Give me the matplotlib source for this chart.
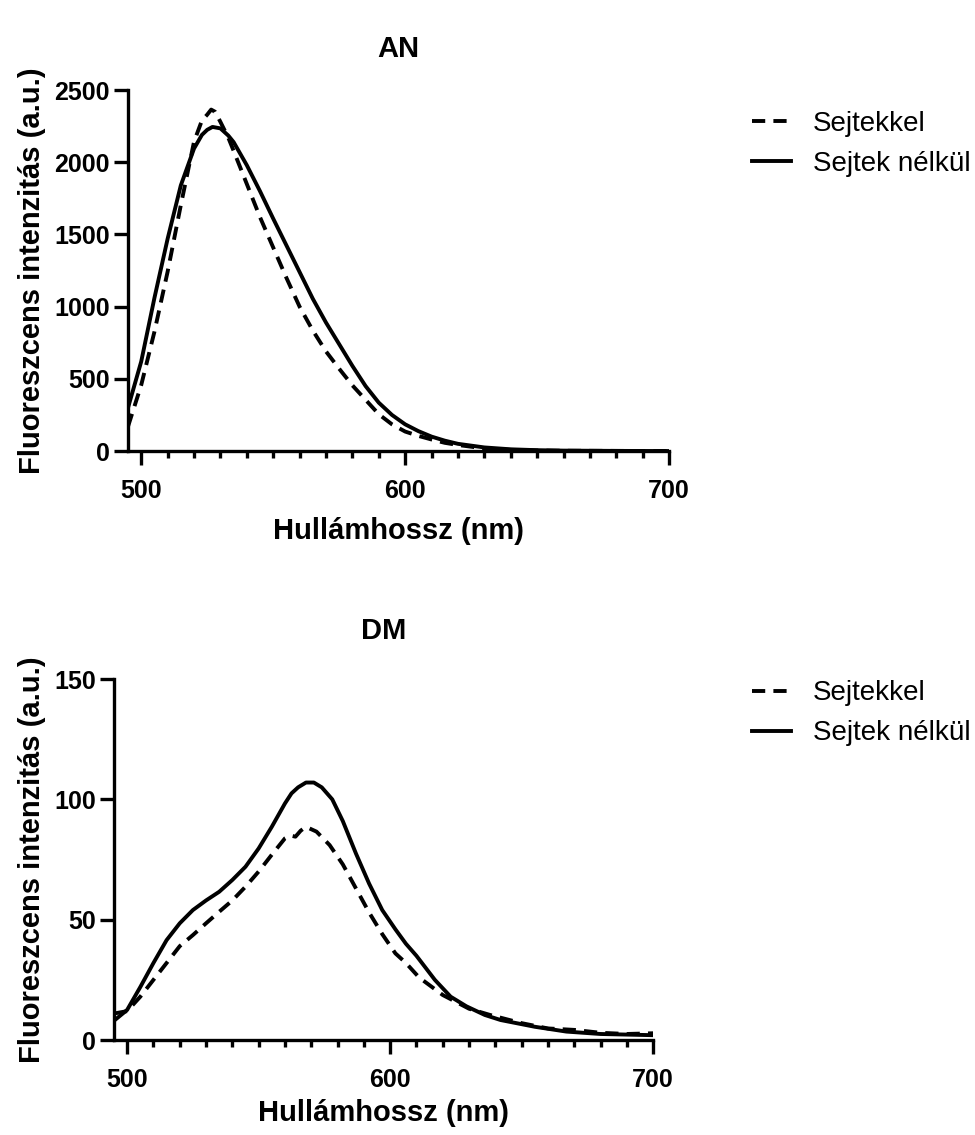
import matplotlib.pyplot as plt
from matplotlib.ticker import MultipleLocator

plt.rcParams['font.family'] = ['Liberation Sans', 'DejaVu Sans']

# AN spectra
an_x_with = [495, 500, 505, 510, 515, 520, 523, 525, 526.5, 528, 530, 533, 535, 540, 545, 550,
             555, 560, 565, 570, 575, 580, 585, 590, 595, 600, 605, 610, 615, 620, 630, 640,
             650, 660, 680, 700]
an_with = [170, 457, 826, 1242, 1703, 2142, 2290, 2330, 2365, 2350, 2280, 2170, 2080, 1850, 1620, 1410,
           1200, 1000, 835, 690, 570, 455, 355, 255, 185, 135, 105, 80, 57, 42, 18, 8,
           4, 2, 1, 0]
an_x_without = [495, 500, 505, 510, 515, 520, 523, 525, 527, 530, 533, 535, 540, 545, 550, 555,
                560, 565, 570, 575, 580, 585, 590, 595, 600, 605, 610, 615, 620, 630, 640, 650,
                660, 680, 700]
an_without = [300, 620, 1060, 1470, 1840, 2095, 2190, 2225, 2245, 2235, 2185, 2140, 1980, 1800, 1610, 1425,
              1240, 1055, 890, 740, 590, 450, 335, 250, 185, 138, 100, 72, 50, 25, 12, 6,
              3, 1, 0]

# DM spectra
dm_x_with = [495, 500, 505, 510, 515, 520, 525, 530, 535, 540, 545, 550, 555, 560, 562, 564,
             566, 568, 572, 577, 582, 587, 592, 597, 602, 606, 611, 620, 630, 638, 650, 660,
             670, 680, 690, 700]
dm_with = [11, 12, 18, 25, 32, 39, 43.6, 48.5, 53.3, 58, 63.7, 70, 77, 83.8, 85, 84.5,
           87, 88.6, 86.6, 81, 73, 63, 53, 44, 36, 32, 26, 18.7, 13, 10.4, 7, 4.8,
           4.2, 3, 2.5, 2.8]
dm_x_without = [495, 500, 505, 510, 515, 520, 525, 530, 535, 540, 545, 550, 555, 560, 562.5, 565,
                568, 571, 574, 578, 582, 587, 592, 597, 602, 606, 610, 617, 623, 629, 636, 642,
                655, 667, 680, 700]
dm_without = [8, 12.5, 22, 32, 41.5, 48.5, 54, 58, 61.6, 66.5, 72, 79.6, 88.6, 98.3, 102.5, 105,
              107, 107, 105, 100, 91, 77.5, 65, 54, 46, 40, 35, 25, 18, 14, 10.4, 8.3,
              5.5, 3.5, 2.5, 2]

fig = plt.figure(figsize=(9.75, 11.35), dpi=100)
ax1 = fig.add_axes([0.1313, 0.6026, 0.555, 0.318])
ax2 = fig.add_axes([0.1169, 0.0837, 0.553, 0.318])

panels = [
    (ax1, 'AN', an_x_with, an_with, an_x_without, an_without, 2500, 500, 0.9025, 24, 10),
    (ax2, 'DM', dm_x_with, dm_with, dm_x_without, dm_without, 150, 50, 0.4005, 29, 5),
]

for ax, title, xw, yw, xo, yo, ymax, ystep, leg_y, tpad, xpad in panels:
    ax.plot(xw, yw, color='black', lw=2.8, ls=(0, (3.4, 2.1)), label='Sejtekkel')
    ax.plot(xo, yo, color='black', lw=2.8, label='Sejtek nélkül')
    ax.set_xlim(495, 700)
    ax.set_ylim(0, ymax)
    ax.xaxis.set_major_locator(MultipleLocator(100))
    ax.xaxis.set_minor_locator(MultipleLocator(10))
    ax.yaxis.set_major_locator(MultipleLocator(ystep))
    for side in ['top', 'right']:
        ax.spines[side].set_visible(False)
    for side in ['left', 'bottom']:
        ax.spines[side].set_linewidth(2.4)
    ax.tick_params(axis='both', which='major', length=10, width=2.4, labelsize=18)
    ax.tick_params(axis='x', which='major', pad=10)
    ax.tick_params(axis='y', which='major', pad=3)
    ax.tick_params(axis='x', which='minor', length=5, width=2.4)
    for lbl in ax.get_xticklabels() + ax.get_yticklabels():
        lbl.set_fontweight('bold')
    ax.set_title(title, fontsize=21, fontweight='bold', pad=tpad)
    ax.set_xlabel('Hullámhossz (nm)', fontsize=21, fontweight='bold', labelpad=xpad)
    ax.set_ylabel('Fluoreszcens intenzitás (a.u.)', fontsize=21, fontweight='bold', labelpad=6)
    ax.legend(loc='upper left', bbox_to_anchor=(0.771, leg_y), bbox_transform=fig.transFigure,
              frameon=False, fontsize=20, borderpad=0, borderaxespad=0,
              handlelength=1.4, handletextpad=0.8, labelspacing=0.5)

fig.savefig('out.png', dpi=100)
